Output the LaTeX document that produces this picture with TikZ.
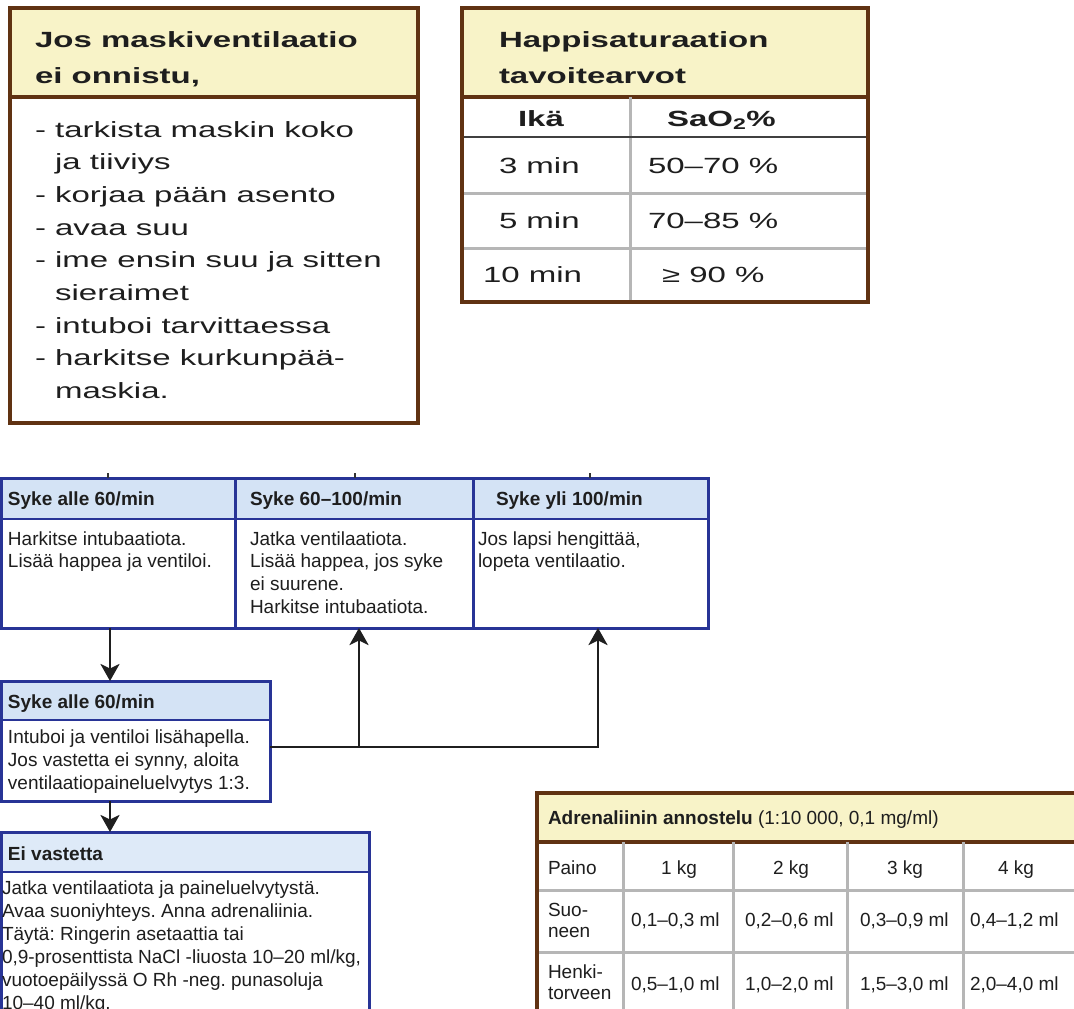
\documentclass[tikz,border=0pt]{standalone}
\usepackage{fontspec}
\setmainfont{Liberation Sans}
\newfontfamily\widefont[FakeStretch=1.5]{Liberation Sans}
\usetikzlibrary{arrows.meta}
\definecolor{brownb}{RGB}{96,50,18}
\definecolor{creamf}{RGB}{248,243,200}
\definecolor{grayl}{RGB}{182,182,182}
\definecolor{blueb}{RGB}{40,52,150}
\definecolor{bluef}{RGB}{212,227,245}
\definecolor{bluef2}{RGB}{222,234,248}
\definecolor{txt}{RGB}{30,30,30}
\frenchspacing
\begin{document}
\frenchspacing
\begin{tikzpicture}[x=1pt,y=-1pt,
  frame/.style={anchor=north west, inner sep=0pt, outer sep=0pt},
  tx/.style={anchor=base west, inner sep=0pt, outer sep=0pt, text=txt, align=left},
  ctx/.style={anchor=base, inner sep=0pt, outer sep=0pt, text=txt},
  wfont/.style={font=\widefont\fontsize{22}{32.7}\selectfont},
  wbold/.style={font=\widefont\bfseries\fontsize{22}{36}\selectfont},
  ffont/.style={font=\fontsize{19}{22.7}\selectfont},
  fbold/.style={font=\bfseries\fontsize{19}{22.7}\selectfont},
  afont/.style={font=\fontsize{19}{21.5}\selectfont},
  gline/.style={draw=grayl, line width=3pt},
  arr/.style={-{Stealth[length=17pt,width=19pt,inset=4.5pt]}, line width=2.8pt, draw=black!88}]
\useasboundingbox (0,0) rectangle (1074,1009);
\fill[white] (0,0) rectangle (1074,1009);

% ---------- top-left box ----------
\node[frame, fill=creamf, minimum width=408pt, minimum height=89pt] (mhead) at (10,8) {};
\draw[brownb, line width=3.5pt] (mhead.south west) -- (mhead.south east);
\node[frame, draw=brownb, line width=4pt, minimum width=408pt, minimum height=415pt] (mbox) at (10,8) {};
% multi-line nodes: placed at the baseline of their last line
\node[tx, wbold] (mtitle) at (35,83) {Jos maskiventilaatio\\ei onnistu,};
\node[tx, wfont] (mlist) at (35,398.6) {- tarkista maskin koko\\\phantom{- }ja tiiviys\\- korjaa pään asento\\- avaa suu\\- ime ensin suu ja sitten\\\phantom{- }sieraimet\\- intuboi tarvittaessa\\- harkitse kurkunpää-\\\phantom{- }maskia.};

% ---------- saturation table ----------
\node[frame, fill=creamf, minimum width=406pt, minimum height=89pt] (shead) at (462,8) {};
\draw[brownb, line width=3.5pt] (shead.south west) -- (shead.south east);
\draw[gline] (630,97) -- (630,302);
\draw[draw=black!75, line width=1.5pt] (462,137) -- (868,137);
\draw[gline] (462,193) -- (868,193);
\draw[gline] (462,248) -- (868,248);
\node[frame, draw=brownb, line width=4pt, minimum width=406pt, minimum height=294pt] (sbox) at (462,8) {};
\node[tx, wbold] (stitle) at (499,83) {Happisaturaation\\tavoitearvot};
\node[tx, wbold] (sh1) at (518,126) {Ikä};
\node[tx, wbold] (sh2) at (667,126) {SaO\textsubscript{2}\%};
\node[tx, wfont] (s31) at (499,173) {3 min};
\node[tx, wfont] (s32) at (648,173) {50–70 \%};
\node[tx, wfont] (s51) at (499,228) {5 min};
\node[tx, wfont] (s52) at (648,228) {70–85 \%};
\node[tx, wfont] (s101) at (483,282) {10 min};
\node[tx, wfont] (s102) at (662,282) {≥ 90 \%};

% ---------- flowchart top row ----------
\foreach \n/\x/\w in {c1/1/234, c2/235/238, c3/473/235}{
  \node[frame, fill=bluef, draw=blueb, line width=2.5pt, minimum width=\w pt, minimum height=41pt] (\n h) at (\x,478) {};
  \node[frame, draw=blueb, line width=3pt, minimum width=\w pt, minimum height=150pt] (\n) at (\x,478) {};
}
\draw[black!80, line width=2pt] (108,473) -- (c1.north -| 108,0);
\draw[black!80, line width=2pt] (355,473) -- (c2.north -| 355,0);
\draw[black!80, line width=2pt] (590,473) -- (c3.north -| 590,0);
\node[tx, fbold] (c1t) at (8,505) {Syke alle 60/min};
\node[tx, fbold] (c2t) at (250,505) {Syke 60–100/min};
\node[tx, fbold] (c3t) at (496,505) {Syke yli 100/min};
\node[tx, ffont] (c1b) at (8,567.7) {Harkitse intubaatiota.\\Lisää happea ja ventiloi.};
\node[tx, ffont] (c2b) at (250,613.1) {Jatka ventilaatiota.\\Lisää happea, jos syke\\ei suurene.\\Harkitse intubaatiota.};
\node[tx, ffont] (c3b) at (478,567.7) {Jos lapsi hengittää,\\lopeta ventilaatio.};

% ---------- box 2 ----------
\node[frame, fill=bluef, draw=blueb, line width=2.5pt, minimum width=269pt, minimum height=39pt] (b2h) at (1,681) {};
\node[frame, draw=blueb, line width=3pt, minimum width=269pt, minimum height=120pt] (b2) at (1,681) {};
\node[tx, fbold] (b2t) at (8,708) {Syke alle 60/min};
\node[tx, font=\fontsize{19}{23}\selectfont] (b2b) at (8,789) {Intuboi ja ventiloi lisähapella.\\Jos vastetta ei synny, aloita\\ventilaatiopaineluelvytys 1:3.};

% ---------- box 3 ----------
\node[frame, fill=bluef2, draw=blueb, line width=2.5pt, minimum width=368pt, minimum height=40pt] (b3h) at (1,832) {};
\node[frame, draw=blueb, line width=3pt, minimum width=368pt, minimum height=220pt] (b3) at (1,832) {};
\node[tx, fbold] (b3t) at (8,860) {Ei vastetta};
\node[tx, font=\fontsize{19}{23}\selectfont] (b3b) at (2,1009) {Jatka ventilaatiota ja paineluelvytystä.\\Avaa suoniyhteys. Anna adrenaliinia.\\Täytä: Ringerin asetaattia tai\\0,9-prosenttista NaCl -liuosta 10–20 ml/kg,\\vuotoepäilyssä O Rh -neg. punasoluja\\10–40 ml/kg.};

% ---------- connectors ----------
\coordinate (dx) at (110,0);
\coordinate (j1) at (359,747);
\coordinate (j2) at (598,747);
\draw[arr] (c1.south -| dx) -- (b2.north -| dx);
\draw[arr] (b2.south -| dx) -- (b3.north -| dx);
\draw[arr, line join=miter] (b2.east |- j1) -- (j2) -- (c3.south -| j2);
\draw[arr] (j1) -- (c2.south -| j1);

% ---------- adrenaline table ----------
\node[frame, fill=creamf, minimum width=560pt, minimum height=49pt] (ahead) at (537,793) {};
\draw[brownb, line width=3.5pt] (ahead.south west) -- (ahead.south east);
\foreach \x in {623,733,847,963} \draw[gline] (\x,842) -- (\x,1020);
\draw[gline] (537,890) -- (1080,890);
\draw[gline] (537,952) -- (1080,952);
\node[frame, draw=brownb, line width=3.5pt, minimum width=560pt, minimum height=260pt] (abox) at (537,793) {};
\node[tx, afont] (atitle) at (548,824) {\textbf{Adrenaliinin annostelu} (1:10 000, 0,1 mg/ml)};
\node[tx, afont] (ap) at (548,874) {Paino};
\node[ctx, afont] (ak1) at (679,874) {1 kg};
\node[ctx, afont] (ak2) at (791,874) {2 kg};
\node[ctx, afont] (ak3) at (905,874) {3 kg};
\node[ctx, afont] (ak4) at (1016,874) {4 kg};
\node[tx, afont] (as) at (548,937.5) {Suo-\\neen};
\node[tx, afont] (as1) at (631,926) {0,1–0,3 ml};
\node[tx, afont] (as2) at (745,926) {0,2–0,6 ml};
\node[tx, afont] (as3) at (860,926) {0,3–0,9 ml};
\node[tx, afont] (as4) at (970,926) {0,4–1,2 ml};
\node[tx, afont] (ah) at (548,999.5) {Henki-\\torveen};
\node[tx, afont] (ah1) at (631,990) {0,5–1,0 ml};
\node[tx, afont] (ah2) at (745,990) {1,0–2,0 ml};
\node[tx, afont] (ah3) at (860,990) {1,5–3,0 ml};
\node[tx, afont] (ah4) at (970,990) {2,0–4,0 ml};
\end{tikzpicture}
\end{document}
